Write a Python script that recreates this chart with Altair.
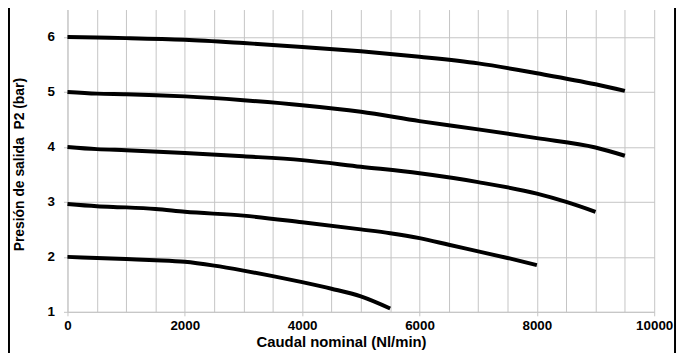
import altair as alt
import pandas as pd

# Curves (x: Nl/min, y: bar)
x6 = [0, 500, 1000, 2000, 3000, 4000, 5000, 6000, 7000, 8000, 9000, 9500]
p6 = [6.0, 5.99, 5.98, 5.95, 5.89, 5.82, 5.74, 5.64, 5.52, 5.34, 5.14, 5.02]

x5 = [0, 500, 1000, 2000, 3000, 4000, 5000, 6000, 7000, 8000, 9000, 9500]
p5 = [5.0, 4.97, 4.96, 4.92, 4.85, 4.76, 4.64, 4.47, 4.32, 4.16, 3.99, 3.84]

x4 = [0, 500, 1000, 2000, 3000, 4000, 5000, 6000, 7000, 8000, 8500, 9000]
p4 = [4.0, 3.96, 3.94, 3.89, 3.83, 3.76, 3.64, 3.52, 3.36, 3.15, 3.0, 2.82]

x3 = [0, 500, 1000, 1500, 2000, 3000, 4000, 5000, 5500, 6000, 6500, 7000, 7500, 8000]
p3 = [2.96, 2.92, 2.9, 2.87, 2.82, 2.75, 2.63, 2.5, 2.43, 2.34, 2.22, 2.1, 1.98, 1.85]

x2 = [0, 500, 1000, 1500, 2000, 2500, 3000, 3500, 4000, 4500, 5000, 5500]
p2 = [2.0, 1.98, 1.96, 1.94, 1.91, 1.84, 1.75, 1.65, 1.54, 1.42, 1.28, 1.06]

series = [("6 bar", x6, p6), ("5 bar", x5, p5), ("4 bar", x4, p4),
          ("3 bar", x3, p3), ("2 bar", x2, p2)]

x_grid = list(range(0, 10001, 500))
y_grid = [1 + 0.5 * i for i in range(12)]

rows = []
for name, xs, ps in series:
    for i, (xv, pv) in enumerate(zip(xs, ps)):
        rows.append({"serie": name, "q": xv, "p": pv, "o": i})
df = pd.DataFrame(rows)

FONT = "Liberation Sans"
GRID = "#c4c4c4"

x_axis = alt.Axis(
    values=x_grid, format="d",
    labelExpr="datum.value % 2000 === 0 ? datum.label : ''",
    labelFont=FONT, labelFontSize=13.5, labelFontWeight="bold", labelColor="black",
    labelPadding=3, labelOverlap=False, labelFlush=False,
    tickSize=4, tickColor=GRID,
    tickOpacity={"condition": {"test": "datum.value % 2000 === 0", "value": 1}, "value": 0},
    domainColor=GRID, gridColor=GRID, gridOpacity=1,
    title="Caudal nominal (Nl/min)", titleFont=FONT, titleFontSize=15,
    titleFontWeight="bold", titleColor="black",
    titleX=276, titleY=30, titleBaseline="middle", titleAlign="center",
)
y_axis = alt.Axis(
    values=y_grid, format="d",
    labelExpr="datum.value % 1 === 0 ? datum.label : ''",
    labelFont=FONT, labelFontSize=13.5, labelFontWeight="bold", labelColor="black",
    labelPadding=9, labelOverlap=False, labelFlush=False,
    tickSize=4, tickColor=GRID,
    tickOpacity={"condition": {"test": "datum.value % 1 === 0", "value": 1}, "value": 0},
    domainColor=GRID, gridColor=GRID, gridOpacity=1,
    title="Presión de salida\u00a0 P2 (bar)", titleFont=FONT, titleFontSize=14,
    titleFontWeight="bold", titleColor="black",
    titleX=-48, titleY=156, titleBaseline="middle", titleAlign="center", titleAngle=270,
)

lines = alt.Chart(df).mark_line(color="black", strokeWidth=4, interpolate="monotone",
                                strokeJoin="round").encode(
    x=alt.X("q:Q", scale=alt.Scale(domain=[0, 10000], nice=False), axis=x_axis),
    y=alt.Y("p:Q", scale=alt.Scale(domain=[1, 6.5], nice=False, zero=False), axis=y_axis),
    detail="serie:N",
    order="o:Q",
)

one = alt.Data(values=[{"k": 1}])
left_border = alt.Chart(one).mark_rule(color="black", strokeWidth=2).encode(
    x=alt.value(-59), y=alt.value(-20), y2=alt.value(360))
right_border = alt.Chart(one).mark_rule(color="black", strokeWidth=2).encode(
    x=alt.value(613), y=alt.value(-20), y2=alt.value(360))

chart = alt.layer(lines, left_border, right_border).properties(
    width=592, height=305,
    autosize=alt.AutoSizeParams(type="none"),
    padding={"left": 60, "top": 0, "right": 23, "bottom": 40},
    background="white",
).configure_view(stroke=None)

chart.save("out.html", embed_options={"renderer": "svg", "actions": False})
